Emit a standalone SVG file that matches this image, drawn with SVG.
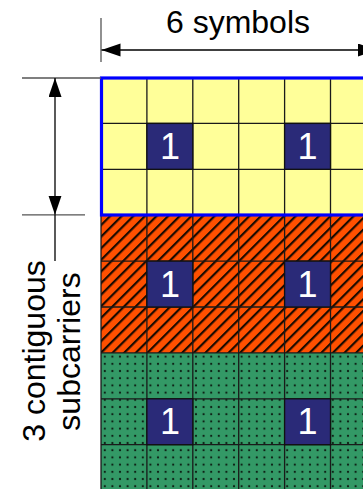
<svg xmlns="http://www.w3.org/2000/svg" width="363" height="489" viewBox="0 0 363 489">
  <style>
    .txt { font-family: "Liberation Sans", Arial, sans-serif; fill: #000; }
    .big { font-size: 32px; }
    .one { font-family: "Liberation Sans", Arial, sans-serif; font-size: 36px; fill: #fff; text-anchor: middle; }
    .grid { stroke: #1a1a1a; stroke-width: 1.3; fill: none; }
    .ext { stroke: #555; stroke-width: 1.3; fill: none; }
    .arr { stroke: #000; stroke-width: 1.3; fill: none; }
    .pilot { fill: #2a2a78; stroke: #111; stroke-width: 1.3; }
  </style>
  <defs>
    <pattern id="hatch" patternUnits="userSpaceOnUse" width="8.2" height="8.2" patternTransform="rotate(45)">
      <rect x="0" y="0" width="2.2" height="8.2" fill="#1a0a00"/>
    </pattern>
    <pattern id="dots" patternUnits="userSpaceOnUse" x="101" y="353" width="7.6" height="7.2">
      <circle cx="3.8" cy="3.6" r="1.1" fill="#0d1f14"/>
    </pattern>
    <marker id="ah" markerUnits="userSpaceOnUse" markerWidth="20" markerHeight="14" refX="19" refY="6.5" orient="auto-start-reverse">
      <polygon points="0,0 19,6.5 0,13" fill="#000"/>
    </marker>
  </defs>

  <g id="title">
    <text class="txt big" x="238" y="33" text-anchor="middle">6 symbols</text>
  </g>

  <g id="side-label">
    <text class="txt big" transform="translate(45,351) rotate(-90)" text-anchor="middle">3 contiguous</text>
    <text class="txt big" transform="translate(80,351.5) rotate(-90)" text-anchor="middle">subcarriers</text>
  </g>

  <g id="block-yellow">
    <rect x="101" y="77.5" width="276" height="137.7" fill="#ffff99"/>
  </g>
  <g id="block-orange">
    <rect x="101" y="215.2" width="276" height="137.7" fill="#ff5000"/>
    <rect x="101" y="215.2" width="276" height="137.7" fill="url(#hatch)"/>
  </g>
  <g id="block-green">
    <rect x="101" y="352.9" width="276" height="140" fill="#339966"/>
    <rect x="101" y="352.9" width="276" height="140" fill="url(#dots)"/>
  </g>

  <g id="grid-lines" class="grid">
    <path d="M101 77.5V492 M146.9 77.5V492 M192.8 77.5V492 M238.7 77.5V492 M284.6 77.5V492 M330.5 77.5V492"/>
    <path d="M101 123.4H377 M101 169.3H377 M101 215.2H377 M101 261.1H377 M101 307H377 M101 352.9H377 M101 398.8H377 M101 444.7H377"/>
  </g>

  <g id="pilots">
    <g id="p1"><rect class="pilot" x="146.9" y="123.4" width="45.9" height="45.9"/><text class="one" x="169.9" y="159">1</text></g>
    <g id="p2"><rect class="pilot" x="284.6" y="123.4" width="45.9" height="45.9"/><text class="one" x="307.6" y="159">1</text></g>
    <g id="p3"><rect class="pilot" x="146.9" y="261.1" width="45.9" height="45.9"/><text class="one" x="169.9" y="296.7">1</text></g>
    <g id="p4"><rect class="pilot" x="284.6" y="261.1" width="45.9" height="45.9"/><text class="one" x="307.6" y="296.7">1</text></g>
    <g id="p5"><rect class="pilot" x="146.9" y="398.8" width="45.9" height="45.9"/><text class="one" x="169.9" y="434.4">1</text></g>
    <g id="p6"><rect class="pilot" x="284.6" y="398.8" width="45.9" height="45.9"/><text class="one" x="307.6" y="434.4">1</text></g>
  </g>

  <g id="rb-border">
    <rect x="101.5" y="78" width="280" height="137" fill="none" stroke="#0000ff" stroke-width="3.2"/>
  </g>

  <g id="connectors">
    <path class="ext" d="M101 18V62"/>
    <path class="ext" d="M22 78H101"/>
    <path class="ext" d="M22 214.8H85"/>
    <path class="arr" d="M55 214.8V261"/>
    <path class="arr" d="M101.5 50H377" marker-start="url(#ah)" marker-end="url(#ah)"/>
    <path class="arr" d="M55 78V214.8" marker-start="url(#ah)" marker-end="url(#ah)"/>
  </g>
</svg>
